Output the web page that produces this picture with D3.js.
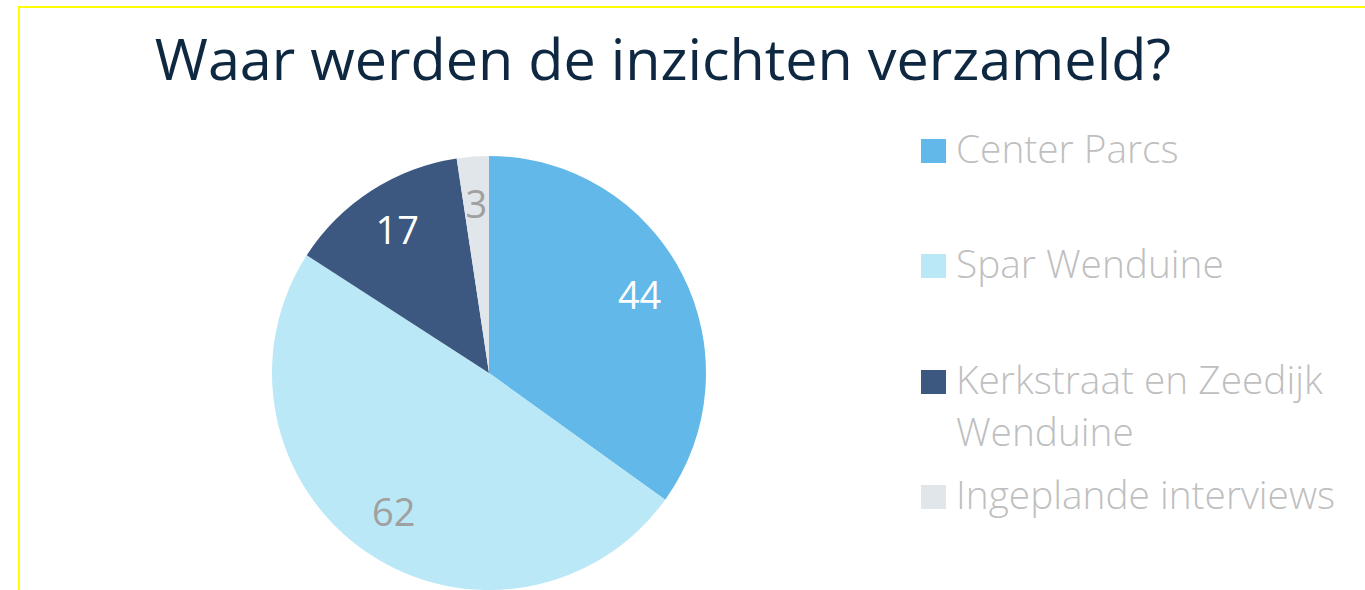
<!DOCTYPE html>
<html>
<head>
<meta charset="utf-8">
<script src="https://cdn.jsdelivr.net/npm/d3@7"></script>
<style>
  body { margin: 0; background: #fff; }
  svg { display: block; font-family: "Open Sans", "Noto Sans", sans-serif; }
</style>
</head>
<body>
<div id="chart"></div>
<script>
const categories = ["Center Parcs", "Spar Wenduine", "Kerkstraat en Zeedijk Wenduine", "Ingeplande interviews"];
const values = [44, 62, 17, 3];
const colors = ["#62b8e8", "#bae8f6", "#3c5880", "#e1e6ea"];
const labelColors = ["#ffffff", "#a0a0a0", "#ffffff", "#a0a0a0"];
const legendLines = [["Center Parcs"], ["Spar Wenduine"], ["Kerkstraat en Zeedijk", "Wenduine"], ["Ingeplande interviews"]];

const W = 1365, H = 590;
const svg = d3.select('#chart').append('svg').attr('width', W).attr('height', H);

// yellow frame
svg.append('rect')
    .attr('x', 19).attr('y', 7)
    .attr('width', W).attr('height', H)
    .attr('fill', 'none')
    .attr('stroke', '#ffff00')
    .attr('stroke-width', 2);

svg.append('text')
    .attr('x', 663)
    .attr('y', 80)
    .attr('text-anchor', 'middle')
    .style('font-size', '57.5px')
    .style('fill', '#0e2841')
    .text("Waar werden de inzichten verzameld?");

const cx = 489, cy = 373, r = 217;
const g = svg.append('g').attr('transform', `translate(${cx}, ${cy})`);

const pie = d3.pie().sort(null).value(d => d);
const arcs = pie(values);
const arc = d3.arc().innerRadius(0).outerRadius(r);
const labelArc = d3.arc().innerRadius(r * 0.78).outerRadius(r * 0.78);

g.selectAll('path')
    .data(arcs)
    .enter()
    .append('path')
    .attr('d', arc)
    .attr('fill', (d, i) => colors[i]);

g.selectAll('.lbl')
    .data(arcs)
    .enter()
    .append('text')
    .attr('class', 'lbl')
    .attr('transform', d => `translate(${labelArc.centroid(d)})`)
    .attr('text-anchor', 'middle')
    .attr('dy', '0.35em')
    .style('font-size', '38px')
    .style('fill', (d, i) => labelColors[i])
    .text(d => d.data);

// legend
const legendY = [151, 266, 382, 497];
const legend = svg.append('g').attr('class', 'legend');

categories.forEach((c, i) => {
    legend.append('rect')
        .attr('x', 921)
        .attr('y', legendY[i] - 12)
        .attr('width', 25)
        .attr('height', 24)
        .attr('fill', colors[i]);
    legendLines[i].forEach((line, j) => {
        legend.append('text')
            .attr('x', 956)
            .attr('y', legendY[i] + 12 + j * 52)
            .style('font-size', '38.8px')
            .style('font-weight', 300)
            .style('fill', '#bfbfbf')
            .text(line);
    });
});
</script>
</body>
</html>
